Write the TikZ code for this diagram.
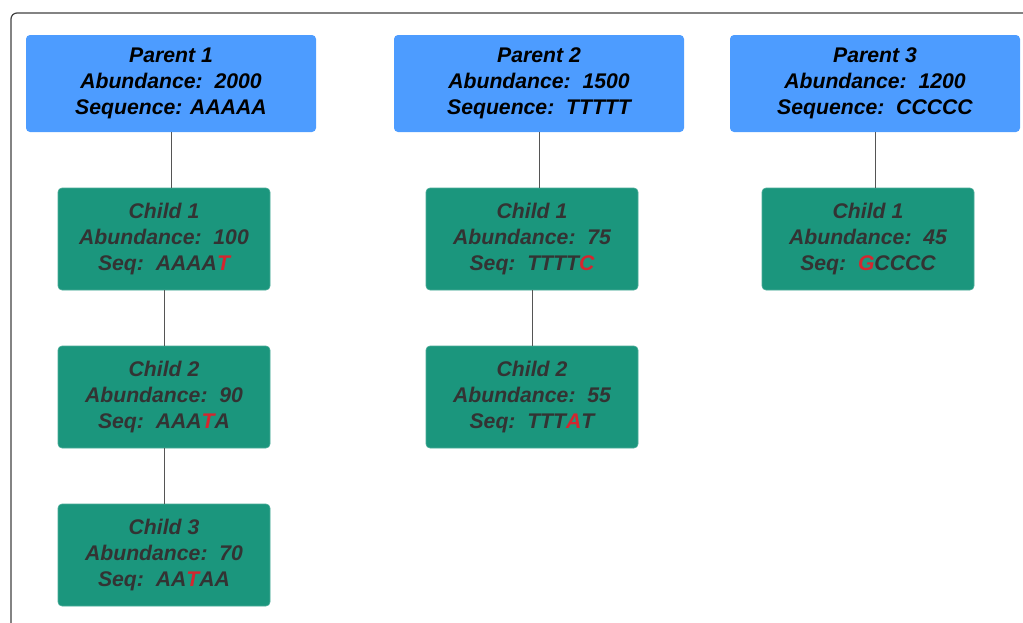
\documentclass[tikz,border=0pt]{standalone}
\usepackage{fontspec}
\setmainfont{Liberation Sans}
\definecolor{pblue}{HTML}{4D9CFF}
\definecolor{cgreen}{HTML}{1B967D}
\definecolor{ctext}{HTML}{333333}
\definecolor{mred}{HTML}{D4262F}
\definecolor{lgray}{HTML}{555555}
\newcommand{\rd}[1]{\textcolor{mred}{#1}}
\begin{document}
\begin{tikzpicture}[x=1pt,y=-1pt,
  parentbox/.style={fill=pblue,rounded corners=4pt,minimum width=290pt,minimum height=97pt,inner sep=0pt,align=center,font=\fontsize{21.2}{26}\selectfont\bfseries\itshape,text=black},
  childbox/.style={fill=cgreen,draw=cgreen!80!white,line width=0.6pt,rounded corners=4pt,minimum width=212pt,minimum height=102pt,inner sep=0pt,align=center,font=\fontsize{21.2}{26}\selectfont\bfseries\itshape,text=ctext},
  link/.style={draw=lgray,line width=0.8pt}]
\useasboundingbox (0,0) rectangle (1023,622);
\draw[draw=black!75,line width=1.2pt,rounded corners=6pt] (11,640) -- (11,13) -- (1040,13);
\node[parentbox] (p1) at (171,83.5) {Parent 1\\Abundance:~~2000\\Sequence: AAAAA};
\node[parentbox] (p2) at (539,83.5) {Parent 2\\Abundance:~~1500\\Sequence:~~TTTTT};
\node[parentbox] (p3) at (875,83.5) {Parent 3\\Abundance:~~1200\\Sequence:~~CCCCC};
\node[childbox] (a1) at (164,239) {Child 1\\Abundance:~~100\\Seq:~~AAAA\rd{T}};
\node[childbox] (a2) at (164,397) {Child 2\\Abundance:~~90\\Seq:~~AAA\rd{T}A};
\node[childbox] (a3) at (164,555) {Child 3\\Abundance:~~70\\Seq:~~AA\rd{T}AA};
\node[childbox] (b1) at (532,239) {Child 1\\Abundance:~~75\\Seq:~~TTTT\rd{C}};
\node[childbox] (b2) at (532,397) {Child 2\\Abundance:~~55\\Seq:~~TTT\rd{A}T};
\node[childbox] (c1) at (868,239) {Child 1\\Abundance:~~45\\Seq:~~\rd{G}CCCC};
\draw[link] (p1.south) -- (p1.south |- a1.north);
\draw[link] (p2.south) -- (p2.south |- b1.north);
\draw[link] (p3.south) -- (p3.south |- c1.north);
\draw[link] (a1) -- (a2);
\draw[link] (a2) -- (a3);
\draw[link] (b1) -- (b2);
\end{tikzpicture}
\end{document}
